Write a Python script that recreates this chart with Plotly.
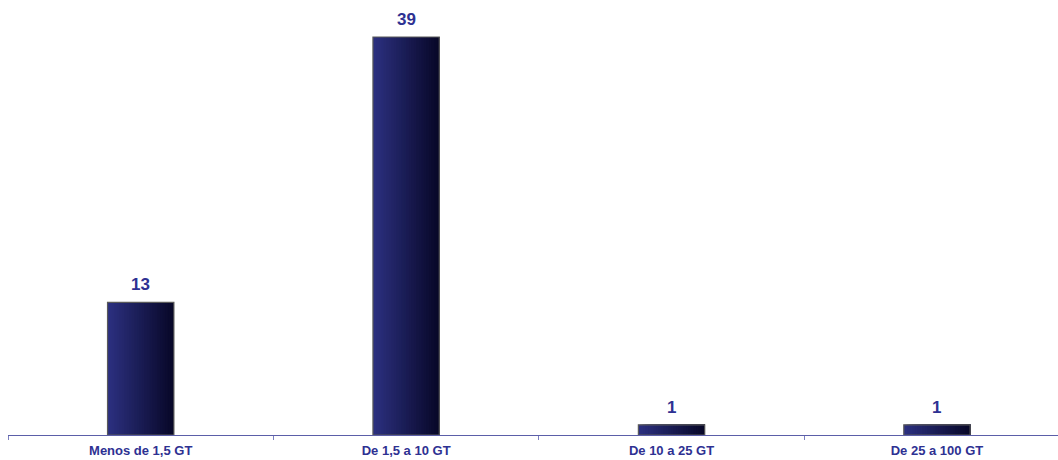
import plotly.graph_objects as go

categories = ["Menos de 1,5 GT", "De 1,5 a 10 GT", "De 10 a 25 GT", "De 25 a 100 GT"]
values = [13, 39, 1, 1]

fig = go.Figure()

n_slices = 40
bar_w = 0.25
left_rgb = (44, 48, 128)
right_rgb = (8, 8, 40)
for i in range(n_slices):
    t = i / (n_slices - 1)
    c = tuple(round(left_rgb[k] + (right_rgb[k] - left_rgb[k]) * t) for k in range(3))
    fig.add_trace(go.Bar(
        x=categories, y=values,
        width=bar_w - i * bar_w / n_slices,
        offset=-bar_w / 2 + i * bar_w / n_slices,
        marker=dict(color="rgb(%d,%d,%d)" % c, line=dict(width=0)),
        showlegend=False, hoverinfo="skip",
    ))

fig.add_trace(go.Bar(
    x=categories, y=values,
    width=bar_w, offset=-bar_w / 2,
    marker=dict(color="rgba(0,0,0,0)", line=dict(color="#5a5a5a", width=1.2)),
    showlegend=False,
))

for cat, v in zip(categories, values):
    fig.add_annotation(
        x=cat, y=v, text=str(v), showarrow=False,
        yanchor="bottom", yshift=6,
        font=dict(family="Liberation Sans, Arial, sans-serif", size=17, color="#2e3192", weight="bold"),
    )

fig.update_layout(
    width=1058, height=460,
    barmode="overlay",
    margin=dict(l=8, r=0, t=7, b=25),
    paper_bgcolor="white", plot_bgcolor="white",
    font=dict(family="Liberation Sans, Arial, sans-serif"),
    xaxis=dict(
        range=[-0.5, 3.456],
        tickson="boundaries", ticks="outside", ticklen=4, tickwidth=1, tickcolor="#7b7fbf",
        showline=True, linecolor="#5b5ea8", linewidth=1.3,
        showgrid=False, zeroline=False,
        tickfont=dict(family="Liberation Sans, Arial, sans-serif", size=13, color="#2e3192", weight="bold"),
        ticklabelstandoff=3,
    ),
    yaxis=dict(range=[0, 41.94], visible=False, showgrid=False, zeroline=False),
)

fig.write_html(
    "out.html",
    config={"displayModeBar": False},
    post_script="document.body.style.margin='0';document.body.style.overflow='hidden';",
)
